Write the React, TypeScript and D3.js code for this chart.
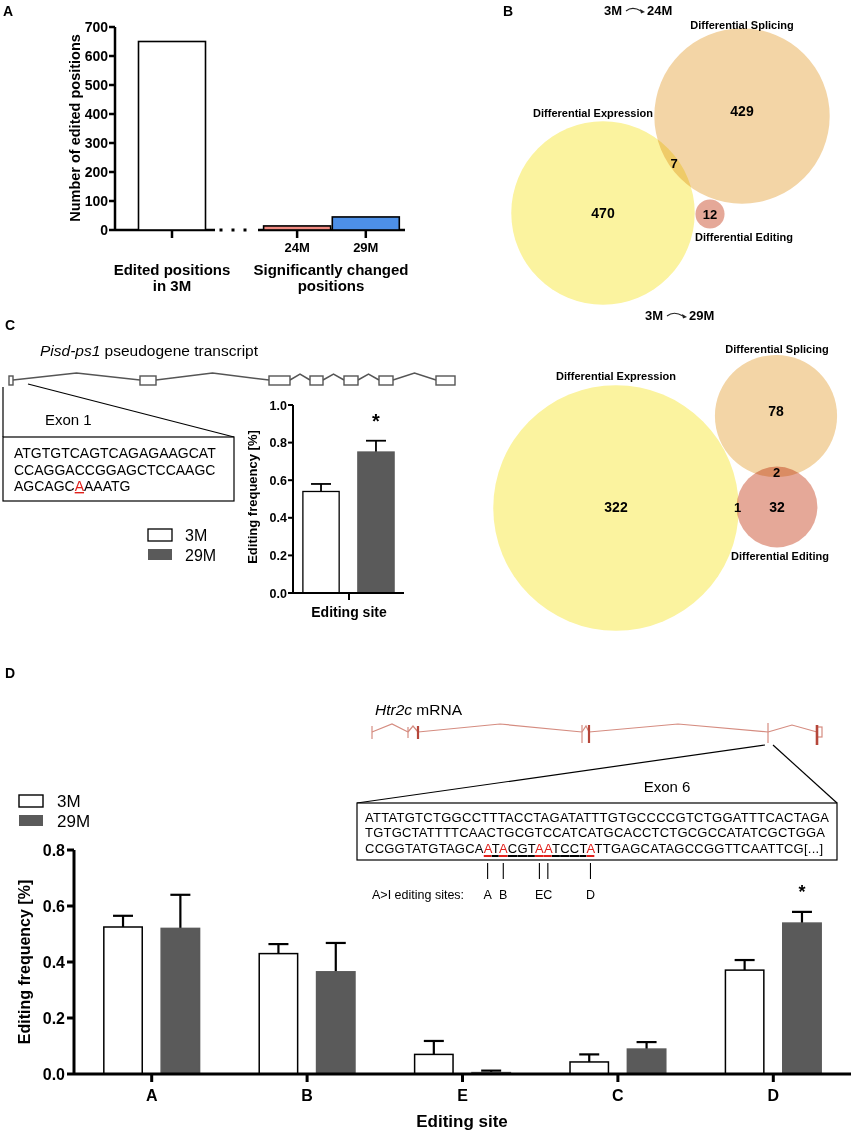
import React, { useLayoutEffect, useRef, useState } from "react";
import * as d3 from "d3";

const FONT = '"Liberation Sans", Arial, Helvetica, sans-serif';

// ---------- Panel A data ----------
const aCategories = ["3M", "24M", "29M"];
const aValues = [650, 14, 45];
const aFills = ["#ffffff", "#f28b82", "#4d90e8"];
const aYTicks = [0, 100, 200, 300, 400, 500, 600, 700];

// ---------- Panel B data ----------
const vennSetNames = ["Differential Expression", "Differential Splicing", "Differential Editing"];
const vennFills = ["#fbf39f", "#f3d5a6", "#e5a898"];
const venn24Unique = [470, 429, 12];
const venn24ExpSpl = 7;
const venn29Unique = [322, 78, 32];
const venn29ExpEdit = 1;
const venn29SplEdit = 2;

// ---------- Panel C data ----------
const cGroups = ["3M", "29M"];
const cMeans = [0.54, 0.75];
const cErrs = [0.04, 0.06];
const cYTicks = [0, 0.2, 0.4, 0.6, 0.8, 1.0];
const cSeq = ["ATGTGTCAGTCAGAGAAGCAT", "CCAGGACCGGAGCTCCAAGC", "AGCAGCAAAATG"];
const cEditedIdx = 6;

// ---------- Panel D data ----------
const dSites = ["A", "B", "E", "C", "D"];
const dGroups = ["3M", "29M"];
const d3M = [0.525, 0.43, 0.07, 0.043, 0.371];
const d3MErr = [0.04, 0.034, 0.048, 0.027, 0.036];
const d29M = [0.52, 0.365, 0.005, 0.089, 0.539];
const d29MErr = [0.12, 0.103, 0.007, 0.025, 0.04];
const dSignificant = [false, false, false, false, true];
const dYTicks = [0, 0.2, 0.4, 0.6, 0.8];
const dSeq = [
  "ATTATGTCTGGCCTTTACCTAGATATTTGTGCCCCGTCTGGATTTCACTAGA",
  "TGTGCTATTTTCAACTGCGTCCATCATGCACCTCTGCGCCATATCGCTGGA",
  "CCGGTATGTAGCAATACGTAATCCTATTGAGCATAGCCGGTTCAATTCG[...]",
];
const dSiteIdx = [13, 15, 19, 20, 25];
const dUnderline = [13, 25];

const GRAY = "#5a5a5a";
const RED = "#e0201b";

function Arrow({ x0, x1, y }: { x0: number; x1: number; y: number }) {
  return (
    <g>
      <path d={`M${x0},${y + 1} C${x0 + 5},${y - 3} ${x1 - 9},${y - 2} ${x1 - 4},${y + 1}`} fill="none" stroke="#222" strokeWidth={1.1} />
      <path d={`M${x1},${y + 2} L${x1 - 5},${y - 1} L${x1 - 4},${y + 3.5} Z`} fill="#222" />
    </g>
  );
}

export default function App() {
  // ---------- A ----------
  const yA = d3.scaleLinear().domain([0, 700]).range([230, 27]);
  const aSlots = [0, 1.84, 2.85];
  const xA = d3.scaleLinear().domain([0, 1]).range([172, 240]);
  const aBarW = 67;

  // ---------- B ----------
  const r24 = d3.scaleSqrt().domain([0, 100]).range([0, 42]);
  const r29 = d3.scaleSqrt().domain([0, 100]).range([0, 68.3]);
  const t24 = [venn24Unique[0] + venn24ExpSpl, venn24Unique[1] + venn24ExpSpl, venn24Unique[2]];
  const t29 = [venn29Unique[0] + venn29ExpEdit, venn29Unique[1] + venn29SplEdit, venn29Unique[2] + venn29SplEdit + venn29ExpEdit];
  const c24 = [[603, 213], [742, 116], [710, 214]];
  const c29 = [[616, 508], [776, 416], [777, 507]];
  const lensMid = (ca: number[], ra: number, cb: number[], rb: number) => {
    const dx = cb[0] - ca[0], dy = cb[1] - ca[1];
    const d = Math.hypot(dx, dy);
    const m = (d - rb + ra) / 2;
    return [ca[0] + (dx * m) / d, ca[1] + (dy * m) / d];
  };
  const R24 = t24.map((t) => r24(t));
  const R29 = t29.map((t) => r29(t));
  const l24 = lensMid(c24[0], R24[0], c24[1], R24[1]);
  const l29se = lensMid(c29[1], R29[1], c29[2], R29[2]);
  const l29ee = lensMid(c29[0], R29[0], c29[2], R29[2]);

  // ---------- C ----------
  const yC = d3.scaleLinear().domain([0, 1]).range([593, 405]);
  const xC = d3.scaleBand().domain(cGroups).range([293, 404]).paddingInner(0.34).paddingOuter(0.18);
  const cExons = [[9, 13], [140, 156], [269, 290], [310, 323], [344, 358], [379, 393], [436, 455]];

  // ---------- D ----------
  const yD = d3.scaleLinear().domain([0, 0.8]).range([1074, 850]);
  const xD = d3.scaleBand().domain(dSites).range([74, 851]);
  const xDi = d3.scaleBand().domain(dGroups).range([0, xD.bandwidth()]).paddingInner(0.33).paddingOuter(0.52);
  const dData = [d3M, d29M];
  const dErr = [d3MErr, d29MErr];

  const seqRef = useRef<SVGTextElement>(null);
  const [charPos, setCharPos] = useState<{ s: number; e: number }[] | null>(null);
  useLayoutEffect(() => {
    const el = seqRef.current;
    if (!el) return;
    const arr: { s: number; e: number }[] = [];
    for (let i = 0; i < dSeq[2].length; i++) {
      try {
        const s = el.getStartPositionOfChar(i).x;
        const e = el.getEndPositionOfChar(i).x;
        arr.push({ s, e });
      } catch (err) {
        arr.push({ s: 0, e: 0 });
      }
    }
    setCharPos(arr);
  }, []);

  const siteLabels: { label: string; x: number }[] = [];
  if (charPos) {
    const xs = dSiteIdx.map((i) => (charPos[i].s + charPos[i].e) / 2);
    xs.forEach((x, k) => {
      const last = siteLabels[siteLabels.length - 1];
      if (last && k > 0 && x - xs[k - 1] < 10) {
        last.label += dSites[k];
        last.x = (xs[k - 1] + x) / 2;
      } else siteLabels.push({ label: dSites[k], x });
    });
  }

  const line3 = dSeq[2];
  const pre = line3.slice(0, dUnderline[0]);
  const mid = line3.slice(dUnderline[0], dUnderline[1] + 1);
  const post = line3.slice(dUnderline[1] + 1);

  return (
    <svg width={853} height={1134} style={{ position: "absolute", left: 0, top: 0, background: "#fff" }} fontFamily={FONT}>
      {/* ================= PANEL A ================= */}
      <text x={3} y={16} fontSize={14} fontWeight="bold">A</text>
      <text transform={`translate(80,128) rotate(-90)`} textAnchor="middle" fontSize={14.5} fontWeight="bold">Number of edited positions</text>
      <line x1={115} x2={115} y1={yA(700)} y2={yA(0)} stroke="#000" strokeWidth={2.5} />
      {aYTicks.map((t) => (
        <g key={t}>
          <line x1={109} x2={115} y1={yA(t)} y2={yA(t)} stroke="#000" strokeWidth={2.5} />
          <text x={108} y={yA(t) + 5} textAnchor="end" fontSize={14} fontWeight="bold">{t}</text>
        </g>
      ))}
      <line x1={115} x2={215} y1={230} y2={230} stroke="#000" strokeWidth={2.5} />
      <line x1={258} x2={405} y1={230} y2={230} stroke="#000" strokeWidth={2.5} />
      {[221, 233, 245].map((x) => (
        <rect key={x} x={x - 1.5} y={228.5} width={3} height={3} fill="#000" />
      ))}
      {aCategories.map((c, i) => {
        const cx = xA(aSlots[i]);
        return (
          <g key={c}>
            <rect x={cx - aBarW / 2} y={yA(aValues[i])} width={aBarW} height={yA(0) - yA(aValues[i])} fill={aFills[i]} stroke="#000" strokeWidth={1.6} />
            <line x1={cx} x2={cx} y1={230} y2={238} stroke="#000" strokeWidth={2.5} />
          </g>
        );
      })}
      <text x={xA(aSlots[1])} y={252} textAnchor="middle" fontSize={13} fontWeight="bold">{aCategories[1]}</text>
      <text x={xA(aSlots[2])} y={252} textAnchor="middle" fontSize={13} fontWeight="bold">{aCategories[2]}</text>
      <text x={xA(aSlots[0])} y={275} textAnchor="middle" fontSize={15} fontWeight="bold">Edited positions</text>
      <text x={xA(aSlots[0])} y={291} textAnchor="middle" fontSize={15} fontWeight="bold">in 3M</text>
      <text x={331} y={275} textAnchor="middle" fontSize={15} fontWeight="bold">Significantly changed</text>
      <text x={331} y={291} textAnchor="middle" fontSize={15} fontWeight="bold">positions</text>

      {/* ================= PANEL B ================= */}
      <text x={503} y={16} fontSize={14} fontWeight="bold">B</text>
      <text x={622} y={15} textAnchor="end" fontSize={13} fontWeight="bold">3M</text>
      <Arrow x0={626} x1={645} y={10} />
      <text x={647} y={15} fontSize={13} fontWeight="bold">24M</text>
      {[0, 1, 2].map((i) => (
        <circle key={i} cx={c24[i][0]} cy={c24[i][1]} r={R24[i]} fill={vennFills[i]} style={{ mixBlendMode: "multiply" }} />
      ))}
      <text x={c24[0][0]} y={c24[0][1] + 5} textAnchor="middle" fontSize={14} fontWeight="bold">{venn24Unique[0]}</text>
      <text x={c24[1][0]} y={c24[1][1]} textAnchor="middle" fontSize={14} fontWeight="bold">{venn24Unique[1]}</text>
      <text x={c24[2][0]} y={c24[2][1] + 5} textAnchor="middle" fontSize={13} fontWeight="bold">{venn24Unique[2]}</text>
      <text x={l24[0]} y={l24[1] + 5} textAnchor="middle" fontSize={13} fontWeight="bold">{venn24ExpSpl}</text>
      <text x={593} y={117} textAnchor="middle" fontSize={11} fontWeight="bold">{vennSetNames[0]}</text>
      <text x={742} y={29} textAnchor="middle" fontSize={11} fontWeight="bold">{vennSetNames[1]}</text>
      <text x={744} y={241} textAnchor="middle" fontSize={11} fontWeight="bold">{vennSetNames[2]}</text>

      <text x={663} y={320} textAnchor="end" fontSize={13} fontWeight="bold">3M</text>
      <Arrow x0={667} x1={687} y={315} />
      <text x={689} y={320} fontSize={13} fontWeight="bold">29M</text>
      {[0, 1, 2].map((i) => (
        <circle key={i} cx={c29[i][0]} cy={c29[i][1]} r={R29[i]} fill={vennFills[i]} style={{ mixBlendMode: "multiply" }} />
      ))}
      <text x={c29[0][0]} y={c29[0][1] + 4} textAnchor="middle" fontSize={14} fontWeight="bold">{venn29Unique[0]}</text>
      <text x={c29[1][0]} y={c29[1][1]} textAnchor="middle" fontSize={14} fontWeight="bold">{venn29Unique[1]}</text>
      <text x={c29[2][0]} y={c29[2][1] + 5} textAnchor="middle" fontSize={14} fontWeight="bold">{venn29Unique[2]}</text>
      <text x={l29se[0]} y={l29se[1] + 5} textAnchor="middle" fontSize={13} fontWeight="bold">{venn29SplEdit}</text>
      <text x={l29ee[0]} y={l29ee[1] + 5} textAnchor="middle" fontSize={13} fontWeight="bold">{venn29ExpEdit}</text>
      <text x={616} y={380} textAnchor="middle" fontSize={11} fontWeight="bold">{vennSetNames[0]}</text>
      <text x={777} y={353} textAnchor="middle" fontSize={11} fontWeight="bold">{vennSetNames[1]}</text>
      <text x={780} y={560} textAnchor="middle" fontSize={11} fontWeight="bold">{vennSetNames[2]}</text>

      {/* ================= PANEL C ================= */}
      <text x={5} y={330} fontSize={14} fontWeight="bold">C</text>
      <text x={40} y={356} fontSize={15.5}>
        <tspan fontStyle="italic">Pisd-ps1</tspan> pseudogene transcript
      </text>
      {cExons.slice(1).map((e, i) => {
        const p = cExons[i];
        const mx = (p[1] + e[0]) / 2;
        return <path key={i} d={`M${p[1]},380 L${mx},${e[0] - p[1] > 40 ? 373 : 374} L${e[0]},380`} fill="none" stroke="#555" strokeWidth={1.5} />;
      })}
      {cExons.map((e, i) => (
        <rect key={i} x={e[0]} y={376} width={e[1] - e[0]} height={9} fill="#fff" stroke="#555" strokeWidth={1.4} />
      ))}
      <line x1={3} x2={3} y1={387} y2={437} stroke="#000" strokeWidth={1.2} />
      <line x1={28} x2={234} y1={384} y2={437} stroke="#000" strokeWidth={1.2} />
      <text x={45} y={425} fontSize={15}>Exon 1</text>
      <rect x={3} y={437} width={231} height={64} fill="#fff" stroke="#000" strokeWidth={1.2} />
      {cSeq.map((s, i) => (
        <text key={i} x={14} y={458 + i * 16.5} fontSize={14}>
          {i === 2 ? (
            <>
              {s.slice(0, cEditedIdx)}
              <tspan fill={RED} style={{ textDecoration: "underline" }}>{s[cEditedIdx]}</tspan>
              {s.slice(cEditedIdx + 1)}
            </>
          ) : (
            s
          )}
        </text>
      ))}
      <rect x={148} y={529} width={24} height={12} fill="#fff" stroke="#000" strokeWidth={1.3} />
      <rect x={148} y={549} width={24} height={11} fill={GRAY} />
      <text x={185} y={541} fontSize={16}>3M</text>
      <text x={185} y={561} fontSize={16}>29M</text>

      <text transform={`translate(257,497) rotate(-90)`} textAnchor="middle" fontSize={13} fontWeight="bold">Editing frequency [%]</text>
      <line x1={293} x2={293} y1={yC(1)} y2={yC(0)} stroke="#000" strokeWidth={2} />
      {cYTicks.map((t) => (
        <g key={t}>
          <line x1={288} x2={293} y1={yC(t)} y2={yC(t)} stroke="#000" strokeWidth={2} />
          <text x={287} y={yC(t) + 4.5} textAnchor="end" fontSize={12.5} fontWeight="bold">{t.toFixed(1)}</text>
        </g>
      ))}
      {cGroups.map((g, i) => {
        const x = xC(g)!;
        const w = xC.bandwidth();
        const cx = x + w / 2;
        return (
          <g key={g}>
            <line x1={cx} x2={cx} y1={yC(cMeans[i])} y2={yC(cMeans[i] + cErrs[i])} stroke="#000" strokeWidth={1.8} />
            <line x1={cx - 10} x2={cx + 10} y1={yC(cMeans[i] + cErrs[i])} y2={yC(cMeans[i] + cErrs[i])} stroke="#000" strokeWidth={1.8} />
            <rect x={x} y={yC(cMeans[i])} width={w} height={yC(0) - yC(cMeans[i])} fill={i === 0 ? "#fff" : GRAY} stroke={i === 0 ? "#000" : GRAY} strokeWidth={1.3} />
          </g>
        );
      })}
      <line x1={293} x2={404} y1={593} y2={593} stroke="#000" strokeWidth={2} />
      <line x1={349} x2={349} y1={593} y2={600} stroke="#000" strokeWidth={2} />
      <text x={xC("29M")! + xC.bandwidth() / 2} y={428} textAnchor="middle" fontSize={20} fontWeight="bold">*</text>
      <text x={349} y={617} textAnchor="middle" fontSize={14} fontWeight="bold">Editing site</text>

      {/* ================= PANEL D ================= */}
      <text x={5} y={678} fontSize={14} fontWeight="bold">D</text>
      <text x={375} y={715} fontSize={15.5}>
        <tspan fontStyle="italic">Htr2c</tspan> mRNA
      </text>
      {/* gene model */}
      <g stroke="#d58c80" fill="none" strokeWidth={1.2}>
        <path d="M372,732 L392,724 L408,732" />
        <path d="M408,732 L413,726 L418,732" />
        <path d="M418,732 L500,724 L582,732" />
        <path d="M582,732 L586,726 L589,732" />
        <path d="M589,732 L678,724 L768,732" />
        <path d="M768,732 L792,725 L817,732" />
        <line x1={372} x2={372} y1={726} y2={739} />
        <line x1={408} x2={408} y1={727} y2={738} />
        <line x1={582} x2={582} y1={725} y2={743} />
        <line x1={768} x2={768} y1={723} y2={743} />
        <rect x={817} y={727} width={5} height={10} />
      </g>
      <g stroke="#b5463a" strokeWidth={2.2}>
        <line x1={418} x2={418} y1={726} y2={739} />
        <line x1={589} x2={589} y1={725} y2={743} />
        <line x1={817} x2={817} y1={725} y2={745} strokeWidth={2.6} />
      </g>
      <line x1={765} x2={357} y1={745} y2={803} stroke="#000" strokeWidth={1.2} />
      <line x1={773} x2={837} y1={745} y2={803} stroke="#000" strokeWidth={1.2} />
      <text x={667} y={792} textAnchor="middle" fontSize={15}>Exon 6</text>
      <rect x={357} y={803} width={480} height={57} fill="#fff" stroke="#000" strokeWidth={1.2} />
      <text x={365} y={822} fontSize={13} textLength={464} lengthAdjust="spacing">{dSeq[0]}</text>
      <text x={365} y={837} fontSize={13} textLength={460} lengthAdjust="spacing">{dSeq[1]}</text>
      <text ref={seqRef} x={365} y={853} fontSize={13} textLength={458} lengthAdjust="spacing">
        {pre}
        {mid.split("").map((ch, k) => {
          const idx = dUnderline[0] + k;
          return (
            <tspan key={k} fill={dSiteIdx.includes(idx) ? RED : "#000"}>{ch}</tspan>
          );
        })}
        {post}
      </text>
      {charPos &&
        mid.split("").map((ch, k) => {
          const idx = dUnderline[0] + k;
          const p = charPos[idx];
          return <line key={k} x1={p.s} x2={p.e} y1={856} y2={856} stroke={dSiteIdx.includes(idx) ? RED : "#000"} strokeWidth={2} />;
        })}
      {charPos &&
        dSiteIdx.map((idx, k) => {
          const x = (charPos[idx].s + charPos[idx].e) / 2;
          return <line key={k} x1={x} x2={x} y1={863} y2={879} stroke="#000" strokeWidth={1.1} />;
        })}
      <text x={372} y={899} fontSize={12.5}>A&gt;I editing sites:</text>
      {siteLabels.map((s, k) => (
        <text key={k} x={s.x} y={899} textAnchor="middle" fontSize={12.5}>{s.label}</text>
      ))}

      {/* legend */}
      <rect x={19} y={795} width={24} height={12} fill="#fff" stroke="#000" strokeWidth={1.4} />
      <rect x={19} y={815} width={24} height={11} fill={GRAY} />
      <text x={57} y={807} fontSize={17}>3M</text>
      <text x={57} y={827} fontSize={17}>29M</text>

      <text transform={`translate(30,962) rotate(-90)`} textAnchor="middle" fontSize={16} fontWeight="bold">Editing frequency [%]</text>
      <line x1={74} x2={74} y1={yD(0.8)} y2={yD(0)} stroke="#000" strokeWidth={3} />
      {dYTicks.map((t) => (
        <g key={t}>
          <line x1={67} x2={74} y1={yD(t)} y2={yD(t)} stroke="#000" strokeWidth={3} />
          <text x={65} y={yD(t) + 5.5} textAnchor="end" fontSize={16} fontWeight="bold">{t.toFixed(1)}</text>
        </g>
      ))}
      {dSites.map((s, si) => (
        <g key={s}>
          {dGroups.map((g, gi) => {
            const x = xD(s)! + xDi(g)!;
            const w = xDi.bandwidth();
            const cx = x + w / 2;
            const v = dData[gi][si];
            const e = dErr[gi][si];
            return (
              <g key={g}>
                <line x1={cx} x2={cx} y1={yD(v)} y2={yD(v + e)} stroke="#000" strokeWidth={2.2} />
                <line x1={cx - 10} x2={cx + 10} y1={yD(v + e)} y2={yD(v + e)} stroke="#000" strokeWidth={2.2} />
                <rect x={x} y={yD(v)} width={w} height={yD(0) - yD(v)} fill={gi === 0 ? "#fff" : GRAY} stroke={gi === 0 ? "#000" : GRAY} strokeWidth={1.5} />
                {gi === 1 && dSignificant[si] && (
                  <text x={cx} y={yD(v + e) - 14} textAnchor="middle" fontSize={18} fontWeight="bold">*</text>
                )}
              </g>
            );
          })}
          <line x1={xD(s)! + xD.bandwidth() / 2} x2={xD(s)! + xD.bandwidth() / 2} y1={1074} y2={1082} stroke="#000" strokeWidth={3} />
          <text x={xD(s)! + xD.bandwidth() / 2} y={1101} textAnchor="middle" fontSize={16} fontWeight="bold">{s}</text>
        </g>
      ))}
      <line x1={74} x2={851} y1={1074} y2={1074} stroke="#000" strokeWidth={3} />
      <text x={462} y={1127} textAnchor="middle" fontSize={17} fontWeight="bold">Editing site</text>
    </svg>
  );
}
